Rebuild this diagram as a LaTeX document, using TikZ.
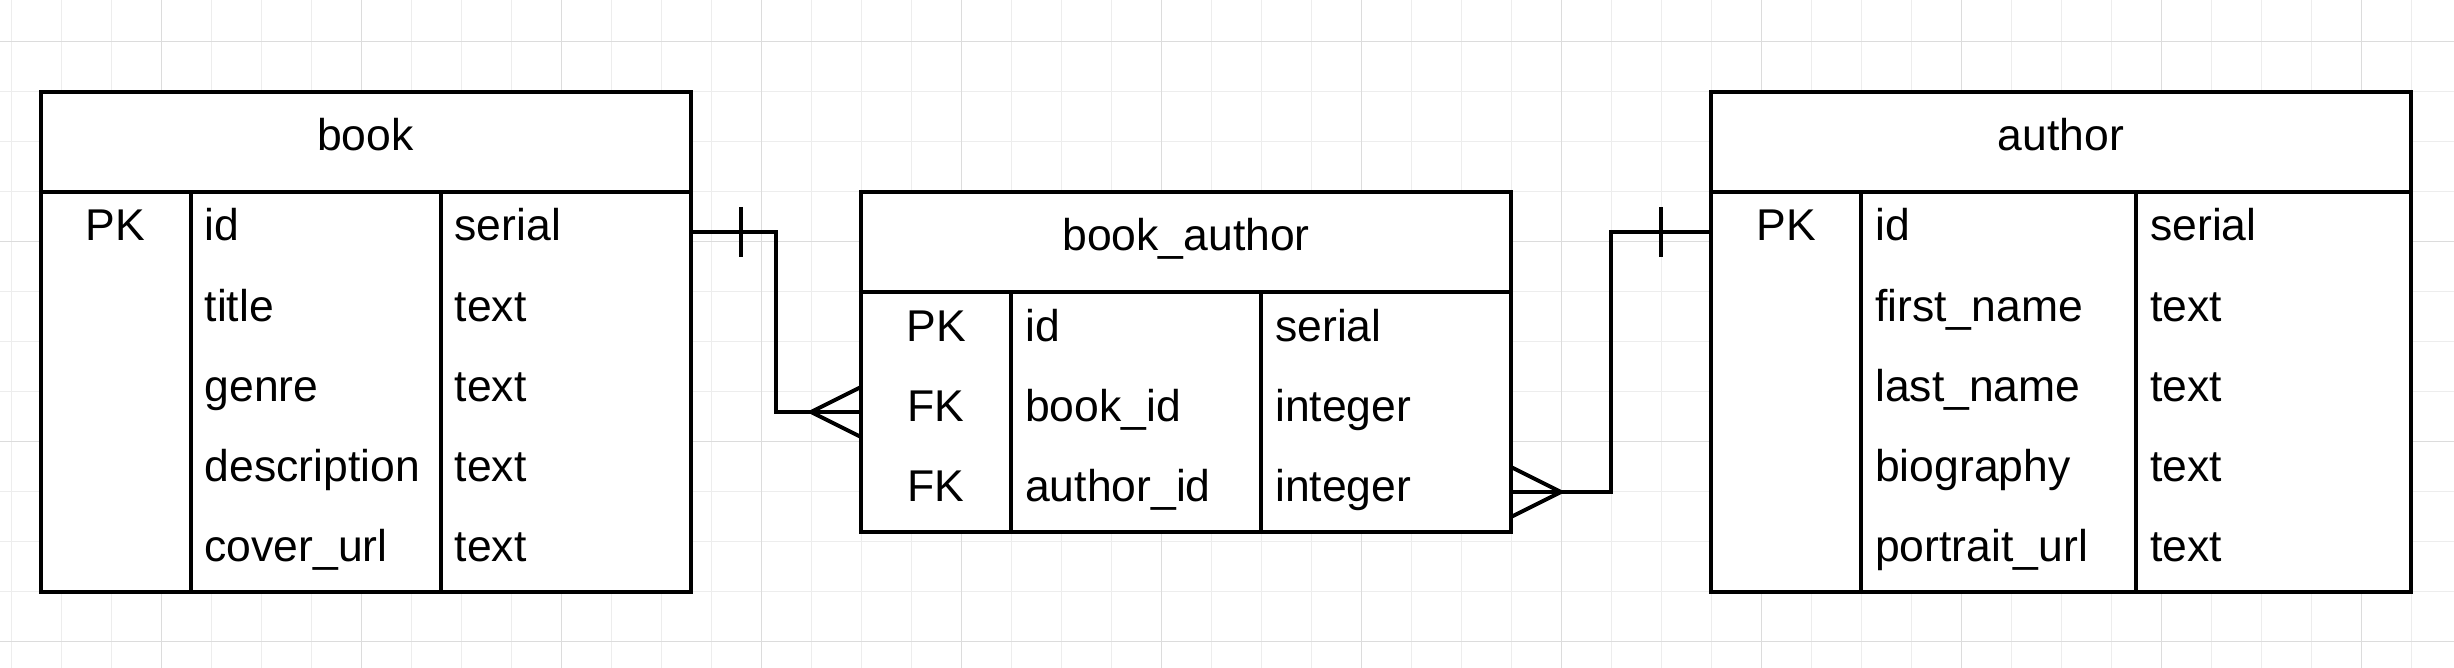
\documentclass[tikz,border=0pt]{standalone}
\usepackage{fontspec}
\setmainfont{Liberation Sans}
\definecolor{grid_minor}{HTML}{EDEDED}
\definecolor{grid_major}{HTML}{DCDCDC}

\begin{document}
\begin{tikzpicture}[x=1pt, y=-1pt, font=\fontsize{44.5}{53}\selectfont]
    \tikzstyle{frame} = [line width=4pt, line join=miter];
    \tikzstyle{hdr} = [fill=white, inner sep=0, outer sep=0, minimum height=100];
    \tikzstyle{row} = [fill=white, inner sep=0, outer sep=0, minimum height=80];
    \tikzstyle{field} = [inner sep=0, anchor=base west];
    \tikzstyle{key} = [inner sep=0, anchor=base];
    \tikzstyle{link} = [line width=4pt, line join=miter];
    \useasboundingbox (0,0) rectangle (2454,668);
    \fill[white] (0,0) rectangle (2454,668);
    % grid
    \foreach \x in {11.6, 61.6, ..., 2454}
    {\draw[grid_minor, line width=1.5pt] (\x,0) -- (\x,668);}
    \foreach \y in {41.3, 91.3, ..., 668}
    {\draw[grid_minor, line width=1.5pt] (0,\y) -- (2454,\y);}
    \foreach \x in {161.6, 361.6, ..., 2454}
    {\draw[grid_major, line width=1.5pt] (\x,0) -- (\x,668);}
    \foreach \y in {41.3, 241.3, ..., 668}
    {\draw[grid_major, line width=1.5pt] (0,\y) -- (2454,\y);}
    % book
    \node[hdr, minimum width=650] (book) at (365.5,142) {};
    \node[key] at (365.5,151) {book};
    \foreach \k/\f/\t[count=\i] in {PK/id/serial, {}/title/text, {}/genre/text,
        {}/description/text, {}/cover\_url/text}
    {
    \node[row, minimum width=650] (book-r\i) at (365.5,152+80*\i) {};
    \node[key] at (115.5,161+80*\i) {\k};
    \node[field] at (204.5,161+80*\i) {\f};
    \node[field] at (454.5,161+80*\i) {\t};}
    \draw[frame] (book.north west) rectangle (book-r5.south east);
    \draw[frame] (book.south west) -- (book.south east);
    \draw[frame] ([xshift=150pt]book-r1.north west) -- ([xshift=150pt]book-r5.south west);
    \draw[frame] ([xshift=400pt]book-r1.north west) -- ([xshift=400pt]book-r5.south west);
    % book_author
    \node[hdr, minimum width=650] (ba) at (1186,242) {};
    \node[key] at (1186,251) {book\_author};
    \foreach \k/\f/\t[count=\i] in {PK/id/serial, FK/book\_id/integer, FK/author\_id/integer}
    {
    \node[row, minimum width=650] (ba-r\i) at (1186,252+80*\i) {};
    \node[key] at (936,261+80*\i) {\k};
    \node[field] at (1025,261+80*\i) {\f};
    \node[field] at (1275,261+80*\i) {\t};}
    \draw[frame] (ba.north west) rectangle (ba-r3.south east);
    \draw[frame] (ba.south west) -- (ba.south east);
    \draw[frame] ([xshift=150pt]ba-r1.north west) -- ([xshift=150pt]ba-r3.south west);
    \draw[frame] ([xshift=400pt]ba-r1.north west) -- ([xshift=400pt]ba-r3.south west);
    % author
    \node[hdr, minimum width=700] (author) at (2061,142) {};
    \node[key] at (2061,151) {author};
    \foreach \k/\f/\t[count=\i] in {PK/id/serial, {}/first\_name/text, {}/last\_name/text,
        {}/biography/text, {}/portrait\_url/text}
    {
    \node[row, minimum width=700] (author-r\i) at (2061,152+80*\i) {};
    \node[key] at (1786,161+80*\i) {\k};
    \node[field] at (1875,161+80*\i) {\f};
    \node[field] at (2150,161+80*\i) {\t};}
    \draw[frame] (author.north west) rectangle (author-r5.south east);
    \draw[frame] (author.south west) -- (author.south east);
    \draw[frame] ([xshift=150pt]author-r1.north west) -- ([xshift=150pt]author-r5.south west);
    \draw[frame] ([xshift=425pt]author-r1.north west) -- ([xshift=425pt]author-r5.south west);
    % relations
    \draw[link] (book-r1.east) -- ++(85,0) |- (ba-r2.west);
    \draw[link] (book-r1.east) ++(50,-25) -- ++(0,50);
    \draw[link] (ba-r2.west) ++(-50,0) -- ++(50,-25) (ba-r2.west) ++(-50,0) -- ++(50,25);
    \draw[link] (ba-r3.east) -- ++(100,0) |- (author-r1.west);
    \draw[link] (author-r1.west) ++(-50,-25) -- ++(0,50);
    \draw[link] (ba-r3.east) ++(50,0) -- ++(-50,-25) (ba-r3.east) ++(50,0) -- ++(-50,25);
\end{tikzpicture}
\end{document}
